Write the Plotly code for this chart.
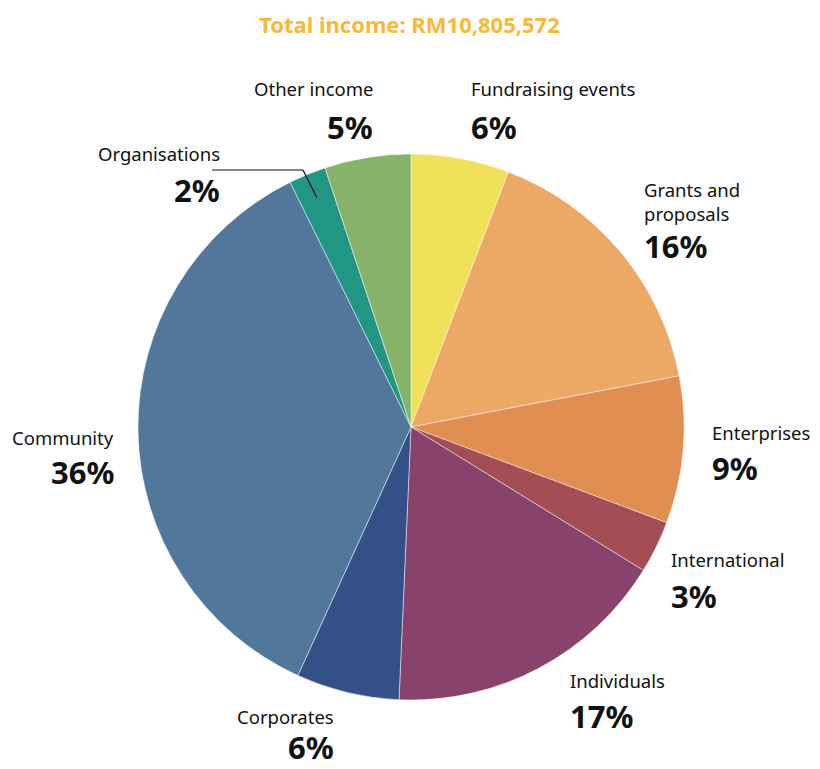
import math
import plotly.graph_objects as go

# ---- data ----
categories = ["Fundraising events", "Grants and proposals", "Enterprises", "International",
              "Individuals", "Corporates", "Community", "Organisations", "Other income"]
label_text = ["Fundraising events", "Grants and<br>proposals", "Enterprises", "International",
              "Individuals", "Corporates", "Community", "Organisations", "Other income"]
shares = [5.8, 16.2, 8.7, 3.1, 16.9, 6.1, 35.9, 2.2, 5.1]
pct_labels = ["6%", "16%", "9%", "3%", "17%", "6%", "36%", "2%", "5%"]
title_text = "Total income: RM10,805,572"

# ---- styles ----
colors = ["#F0E05A", "#ECA965", "#E08E51", "#A34E55", "#87436B",
          "#335087", "#51779B", "#229685", "#86B26A"]
OFF = 8  # page body margin
W, H = 820 - OFF, 769 - OFF
# pie box in page pixels: x 138..684, y 154..700
L, T = 138 - OFF, 154 - OFF
pw, ph = 546, 546
R, B = W - L - pw, H - T - ph
cx, cy, rad = 138 + pw / 2, 154 + ph / 2, pw / 2

# label placement (page pixels): x, y of name line, y of percent line, alignment
label_pos = [
    (470, 89, 127, "left"),
    (643, 201, 246, "left"),
    (711, 432, 468, "left"),
    (670, 559, 596, "left"),
    (569, 680, 716, "left"),
    (335, 717, 747, "right"),
    (115, 437, 472, "right"),
    (221, 153, 190, "right"),
    (374, 89, 127, "right"),
]

def px2paper(x, y):
    return (x - 138) / pw, 1 - (y - 154) / ph

FONT = "Noto Sans"

fig = go.Figure(go.Pie(
    labels=categories, values=shares, sort=False, direction="clockwise", rotation=0,
    marker=dict(colors=colors, line=dict(color="rgba(255,255,255,0.6)", width=0.8)),
    textinfo="none", hoverinfo="label+percent", showlegend=False,
))

annotations = []
for txt, pct, (x, y1, y2, al) in zip(label_text, pct_labels, label_pos):
    xa = "left" if al == "left" else "right"
    px, py = px2paper(x, y1)
    annotations.append(dict(x=px, y=py, xref="paper", yref="paper", text=txt, showarrow=False,
                            xanchor=xa, yanchor="middle", align=al, borderpad=0,
                            font=dict(family=FONT, size=18.5, color="#111111")))
    px, py = px2paper(x, y2)
    annotations.append(dict(x=px, y=py, xref="paper", yref="paper", text="<b>%s</b>" % pct,
                            showarrow=False, xanchor=xa, yanchor="middle", borderpad=0,
                            font=dict(family=FONT, size=31, color="#111111")))

tx, ty = px2paper(409, 24)
annotations.append(dict(x=tx, y=ty, xref="paper", yref="paper", text="<b>%s</b>" % title_text,
                        showarrow=False, xanchor="center", yanchor="middle", borderpad=0,
                        font=dict(family=FONT, size=22, color="#FBB834")))

# leader line for Organisations, end computed from slice mid-angle
total = sum(shares)
idx = categories.index("Organisations")
start = sum(shares[:idx]) / total * 360
mid = math.radians(start + shares[idx] / total * 360 / 2)
ex, ey = cx + 0.91 * rad * math.sin(mid), cy - 0.91 * rad * math.cos(mid)
p0 = px2paper(212, 170)
p1 = px2paper(303, 170)
p2 = px2paper(ex, ey)
shapes = [
    dict(type="line", xref="paper", yref="paper", x0=p0[0], y0=p0[1], x1=p1[0], y1=p1[1],
         line=dict(color="#111111", width=1.2)),
    dict(type="line", xref="paper", yref="paper", x0=p1[0], y0=p1[1], x1=p2[0], y1=p2[1],
         line=dict(color="#111111", width=1.2)),
]

fig.update_layout(
    width=W, height=H, margin=dict(l=L, r=R, t=T, b=B),
    paper_bgcolor="white", plot_bgcolor="white",
    annotations=annotations, shapes=shapes,
)
fig.write_html("out.html")
